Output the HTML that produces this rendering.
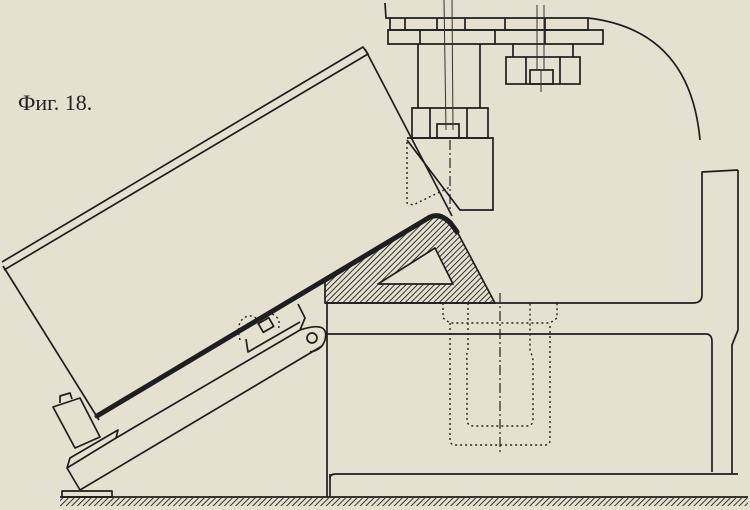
<!DOCTYPE html>
<html><head><meta charset="utf-8"><style>
html,body{margin:0;padding:0;background:#e5e1d0;}
svg{display:block;}
</style></head><body>
<svg width="750" height="510" viewBox="0 0 750 510" xmlns="http://www.w3.org/2000/svg">
<defs>
<pattern id="h" width="4" height="4" patternUnits="userSpaceOnUse" patternTransform="rotate(45)">
<rect width="4" height="4" fill="#e5e1d0"/><line x1="0" y1="0" x2="0" y2="4" stroke="#1e1e1e" stroke-width="1.8"/>
</pattern>
</defs>
<rect width="750" height="510" fill="#e5e1d0"/>
<text x="18" y="110" font-family="Liberation Serif, serif" font-size="22" fill="#222">Фиг. 18.</text>
<g fill="none" stroke="#1e1e1e" stroke-width="1.7" stroke-linejoin="round">
<path d="M2,262 L363,47 L368,54 L4,270"/>
<path d="M365,49 L452,216"/>
<path d="M3,266 L99,420"/>
<path d="M53,407 L80,398 L100,437 L75,448 Z"/>
<path d="M60,403 L60,396 L70,393 L72,399"/>
<path d="M80,490 L322,346"/>
<path d="M67,468 L116,438 L118,430 L70,458 Z"/>
<path d="M67,468 L80,490"/>
<path d="M116,438 L300,330 L305,318 L298,304"/>
<path d="M300,330 Q330,320 325,340 Q322,350 310,352"/>
<circle cx="312" cy="338" r="5"/>
<path d="M246,339 L248,352 L300,322"/>
<rect x="260" y="320" width="12" height="10" transform="rotate(-30 266 325)"/>
<rect x="62" y="491" width="50" height="6"/>
<path d="M325,303 L325,282 L430,218 Q442,212 452,222 L495,303 Z" fill="url(#h)" stroke="#1e1e1e"/>
<path d="M378,284 L435,248 L453,284 Z" fill="#e5e1d0"/>
<path d="M97,416 L430,217 Q444,211 457,232" stroke-width="5" stroke-linecap="round"/>
<path d="M327,303 L327,497"/>
<path d="M325,303 L693,303 Q702,303 702,295 L702,172 L738,170"/>
<path d="M325,334 L706,334 Q712,334 712,342 L712,472"/>
<path d="M738,170 L738,330 L732,345 L732,474"/>
<path d="M330,478 Q330,474 336,474 L738,474"/>
<path d="M330,474 L330,497"/>
<path d="M60,497 L748,497" stroke-width="1.8"/>
</g>
<rect x="60" y="498" width="688" height="8" fill="url(#h)"/>
<g fill="none" stroke="#222" stroke-width="1.4" stroke-dasharray="2,3">
<path d="M443,303 L443,318 L450,323 L550,323 L557,318 L557,303"/>
<path d="M450,323 L450,440 Q450,445 456,445 L545,445 Q550,445 550,440 L550,323"/>
<path d="M468,303 L468,350 Q466,355 467,360 L467,420 Q467,426 474,426 L526,426 Q533,426 533,420 L533,360 Q532,355 530,350 L530,303"/>
<path d="M407,142 L407,203 L413,205 L450,187"/>
<path d="M240,340 Q235,320 248,316 Q258,315 258,325 M258,325 Q262,312 272,314 Q282,318 278,330"/>
</g>
<g stroke="#222" stroke-width="1.2" stroke-dasharray="10,3,2,3">
<path d="M500,293 L500,455"/>
<path d="M450,140 L450,212"/>
</g>
<g fill="none" stroke="#1e1e1e" stroke-width="1.7">
<path d="M385,3 L386,18 L588,18 Q690,30 700,140"/>
<path d="M390,18 L390,30 L588,30 L588,18"/>
<path d="M388,30 L603,30 L603,44 L388,44 Z"/>
<path d="M405,18 L405,30 M437,18 L437,30 M465,18 L465,30 M505,18 L505,30 M545,18 L545,30"/>
<path d="M420,30 L420,44 M495,30 L495,44 M545,30 L545,44"/>
<path d="M418,44 L418,108 M480,44 L480,108"/>
<path d="M412,108 L488,108 L488,138 L412,138 Z"/>
<path d="M430,108 L430,138 M467,108 L467,138"/>
<rect x="437" y="124" width="22" height="14"/>
<path d="M407,138 L493,138 L493,210 L460,210 L407,140"/>
<path d="M513,44 L513,57 M573,44 L573,57"/>
<rect x="506" y="57" width="74" height="27"/>
<path d="M526,57 L526,84 M560,57 L560,84"/>
<rect x="530" y="70" width="23" height="14"/>
</g>
<g stroke="#333" stroke-width="1" fill="none">
<path d="M444,0 L446,130 M452,0 L453,130"/>
<path d="M537,5 L537,70 M544,5 L544,70"/>
<path d="M541,70 L541,92"/>
</g>
</svg>
</body></html>
